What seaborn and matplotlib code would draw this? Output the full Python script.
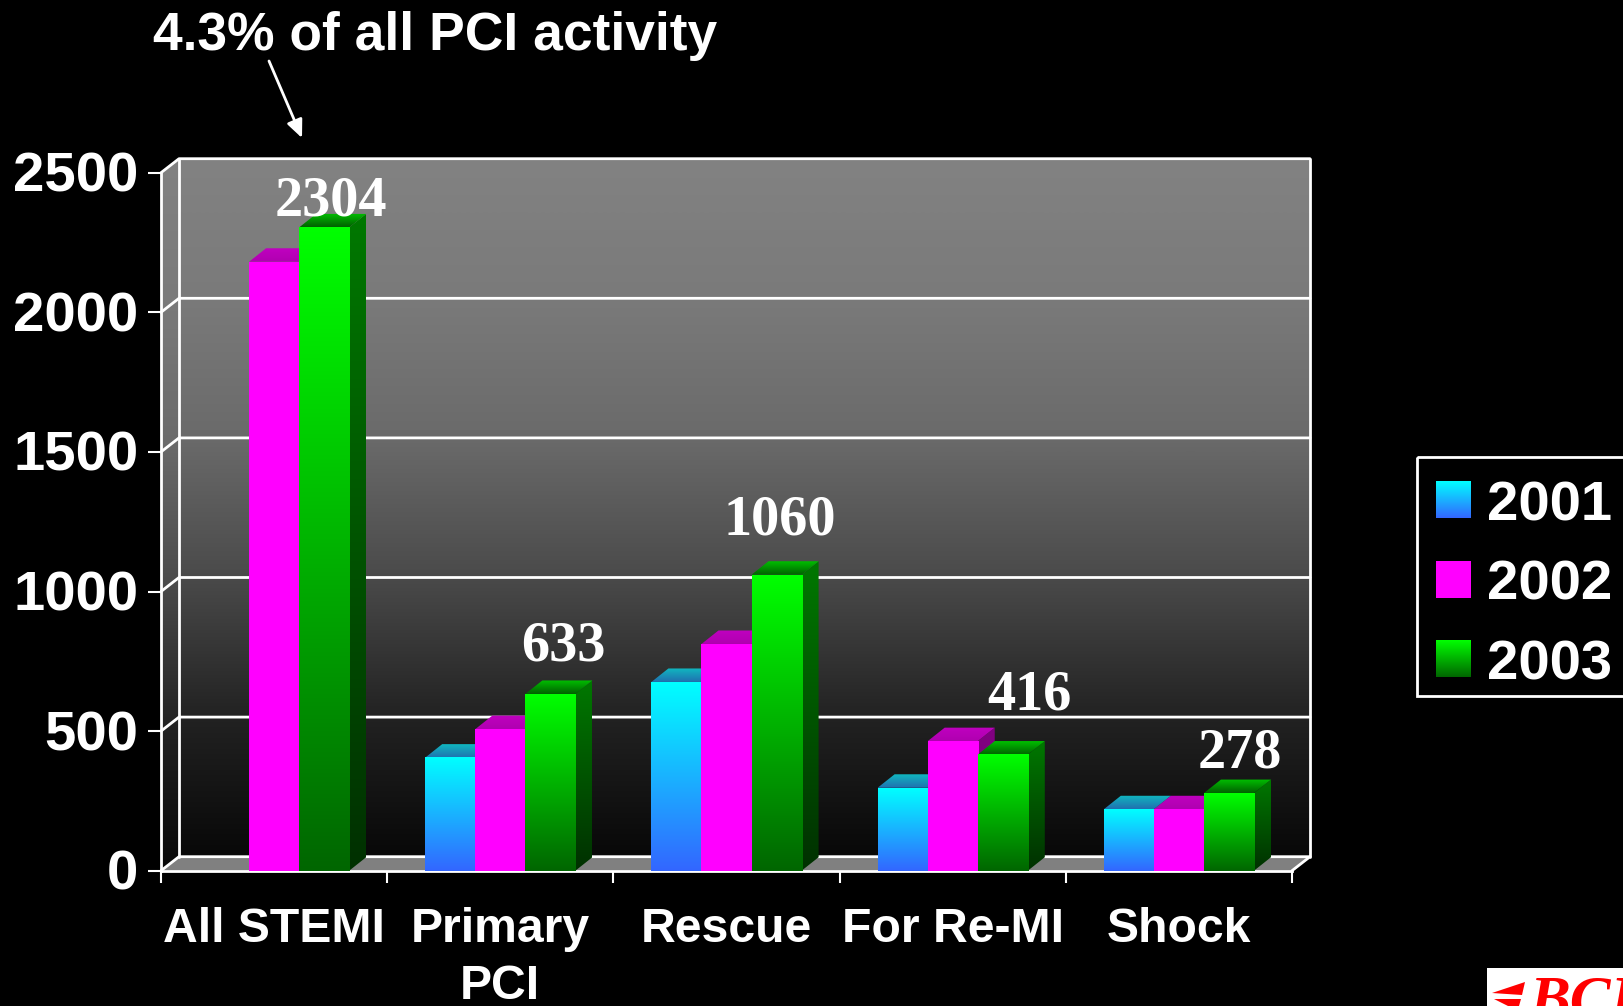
import numpy as np
import pandas as pd
import matplotlib
matplotlib.use('Agg')
import matplotlib.pyplot as plt
import matplotlib.colors as mcolors
from matplotlib.patches import Polygon, Patch, Rectangle
from matplotlib.transforms import ScaledTranslation
import seaborn as sns

# values
procedures = ['All STEMI', 'Primary\nPCI', 'Rescue', 'For Re-MI', 'Shock']
counts_2001 = [np.nan, 405, 676, 297, 220]
counts_2002 = [2181, 507, 812, 464, 220]
counts_2003 = [2304, 633, 1060, 416, 278]
years = ['2001', '2002', '2003']
y_ticks = [0, 500, 1000, 1500, 2000, 2500]
shown_labels = ['2304', '633', '1060', '416', '278']
# where the label sits relative to the top of the green bar (pixels)
label_dx = [7, 13, 3, 27, 11]
label_dy = [12, 33, 40, 45, 26]

W, H = 1623, 1006
DX, DY = 18, 14      # depth of the chart box
BDX, BDY = 17, 13.5  # depth of a bar
LW = 2.0

sns.set_theme(style='white')
plt.rcParams['font.family'] = ['Liberation Sans', 'DejaVu Sans']
plt.rcParams['font.weight'] = 'bold'

df = pd.DataFrame({
    'procedure': procedures * 3,
    'year': [y for y in years for _ in procedures],
    'count': counts_2001 + counts_2002 + counts_2003,
})

fig = plt.figure(figsize=(W / 100, H / 100), dpi=100, facecolor='black')

bg = fig.add_axes([0, 0, 1, 1], zorder=0)
ax = fig.add_axes([161 / W, 1 - 870.7 / H, (1292 - 161) / W, 698 / H], zorder=1)
px = fig.add_axes([0, 0, 1, 1], zorder=2)
for a in (bg, px):
    a.set_xlim(0, W)
    a.set_ylim(H, 0)
    a.axis('off')
    a.set_autoscale_on(False)

palette = {'2001': '#00ffff', '2002': '#ff00ff', '2003': '#00ff00'}
sns.barplot(data=df, x='procedure', y='count', hue='year', hue_order=years,
            order=procedures, palette=palette, width=0.664, gap=0, saturation=1,
            linewidth=0, legend=False, ax=ax)

ax.patch.set_visible(False)
ax.set_xlim(-0.5, 4.5)
ax.set_ylim(0, 2500)
ax.set_xlabel('')
ax.set_ylabel('')
ax.set_yticks(y_ticks)
ax.set_xticks(range(len(procedures)), procedures)
ax.set_xticks(np.arange(-0.5, 5), minor=True)
ax.tick_params(axis='y', colors='white', labelsize=40.5, length=9.4, width=1.5, pad=7, left=True)
ax.tick_params(axis='x', which='major', colors='white', labelsize=34.7, length=0, pad=26)
ax.tick_params(axis='x', which='minor', colors='white', length=8.5, width=1.5, bottom=True)
for s in ('top', 'right'):
    ax.spines[s].set_visible(False)
for s in ('left', 'bottom'):
    ax.spines[s].set_color('white')
    ax.spines[s].set_linewidth(LW)
for label in ax.get_xticklabels():
    label.set_linespacing(1.34)
for label in ax.get_yticklabels():
    label.set_transform(label.get_transform() + ScaledTranslation(0, 1 / 100, fig.dpi_scale_trans))


def to_px(x, y):
    p = ax.transData.transform((x, y))
    return p[0], H - p[1]


def gradient(target, x0, x1, y0, y1, top, bottom, clip, z):
    t = np.linspace(0, 1, 256)[:, None, None]
    c0 = np.array(mcolors.to_rgb(top))[None, None, :]
    c1 = np.array(mcolors.to_rgb(bottom))[None, None, :]
    im = target.imshow((1 - t) * c0 + t * c1, extent=(x0, x1, y1, y0), origin='upper',
                       aspect='auto', interpolation='bilinear', zorder=z)
    if clip is not None:
        im.set_clip_path(Polygon(clip, closed=True, transform=target.transData))
    return im


def wall(target, x0, x1, y0, y1, clip, z):
    # the grey of the wall does not fall off evenly
    stops = [0, 0.2, 0.4, 0.6, 0.8, 1]
    greys = [0x82, 0x7a, 0x6a, 0x4a, 0x22, 0x08]
    g = np.interp(np.linspace(0, 1, 256), stops, greys) / 255
    im = target.imshow(np.dstack([g, g, g])[:, None, :].reshape(256, 1, 3), extent=(x0, x1, y1, y0),
                       origin='upper', aspect='auto', interpolation='bilinear', zorder=z)
    if clip is not None:
        im.set_clip_path(Polygon(clip, closed=True, transform=target.transData))


# chart box behind the bars
fx0, fy0 = to_px(-0.5, 0)
fx1, fy1 = to_px(4.5, 2500)
bx0, bx1 = fx0 + DX, fx1 + DX
wall(bg, bx0, bx1, fy1 - DY, fy0 - DY, None, 1)
side = [(fx0, fy1), (bx0, fy1 - DY), (bx0, fy0 - DY), (fx0, fy0)]
wall(bg, fx0, bx0, fy1 - DY, fy0, side, 1)
bg.add_patch(Polygon([(fx0, fy0), (bx0, fy0 - DY), (bx1, fy0 - DY), (fx1, fy0)],
                     facecolor='#808080', edgecolor='none', zorder=2))
for v in y_ticks:
    _, y = to_px(0, v)
    bg.plot([fx0, bx0, bx1], [y, y - DY, y - DY], color='white', lw=LW, zorder=3)
bg.plot([bx0, bx0], [fy1 - DY, fy0 - DY], color='white', lw=LW, zorder=3)
bg.plot([bx1, bx1], [fy1 - DY, fy0 - DY], color='white', lw=LW, zorder=3)
bg.plot([fx1, bx1], [fy0, fy0 - DY], color='white', lw=LW, zorder=3)

# 3d faces on the seaborn bars, left to right so neighbours overlap correctly
front = {'2001': ('#00ffff', '#3366ff'), '2002': ('#ff00ff', '#ff00ff'), '2003': ('#00ff00', '#006600')}
side_c = {'2001': ('#008080', '#1a3380'), '2002': ('#800080', '#800080'), '2003': ('#007800', '#003000')}
top_c = {'2001': ('#10b8c0', '#2070b0'), '2002': ('#c000c0', '#b000b0'), '2003': ('#00c000', '#006000')}

bars = []
for year, container in zip(years, ax.containers):
    for bar in container:
        if np.isnan(bar.get_height()) or bar.get_height() <= 0:
            continue
        bars.append((bar.get_x(), bar, year))
bars.sort(key=lambda b: b[0])

green_tops = []
for i, (_, bar, year) in enumerate(bars):
    x0, y0 = to_px(bar.get_x(), bar.get_height())
    x1, y1 = to_px(bar.get_x() + bar.get_width(), 0)
    z = 10 + i * 3
    s = [(x1, y0), (x1 + BDX, y0 - BDY), (x1 + BDX, y1 - BDY), (x1, y1)]
    gradient(px, x1, x1 + BDX, y0 - BDY, y1, side_c[year][0], side_c[year][1], s, z)
    t = [(x0, y0), (x0 + BDX, y0 - BDY), (x1 + BDX, y0 - BDY), (x1, y0)]
    gradient(px, x0, x1 + BDX, y0 - BDY, y0, top_c[year][0], top_c[year][1], t, z + 1)
    gradient(px, x0, x1, y0, y1, front[year][0], front[year][1], None, z + 2)
    if year == '2003':
        green_tops.append(((x0 + x1) / 2, y0))

for (cx, cy), txt, dx, dy in zip(green_tops, shown_labels, label_dx, label_dy):
    px.text(cx + dx, cy - dy, txt, color='white', fontsize=40.5, ha='center', va='baseline',
            family=['Liberation Serif', 'DejaVu Serif'], fontweight='bold', zorder=100)

# title and arrow
px.text(153, 50, '4.3% of all PCI activity', color='white', fontsize=38.4, fontweight='bold',
        ha='left', va='baseline', zorder=100)
px.annotate('', xy=(302, 138), xytext=(269, 61), zorder=100,
            arrowprops=dict(arrowstyle='-|>,head_length=0.9,head_width=0.4', color='white', lw=2,
                            shrinkA=0, shrinkB=0))

# legend, its box is drawn apart because the rows do not sit centred in it
px.add_patch(Rectangle((1417, 457), W + 20 - 1417, 696 - 457, facecolor='none', edgecolor='white',
                       linewidth=LW, zorder=100))
bg.add_patch(Rectangle((1417, 457), W + 20 - 1417, 696 - 457, facecolor='black', edgecolor='none', zorder=5))
handles = [Patch(facecolor=palette[y], edgecolor='none', label=y) for y in years]
leg = ax.legend(handles=handles, loc='upper left', bbox_to_anchor=(1417 / W, 1 - 461 / H),
                bbox_transform=fig.transFigure, borderaxespad=0, fontsize=40.5, labelcolor='white',
                handlelength=0.61, handleheight=0.61, handletextpad=0.3, labelspacing=0.49,
                borderpad=0.34, frameon=False)
fig.canvas.draw()
for handle, year in zip(leg.legend_handles, years):
    ext = handle.get_window_extent()
    gradient(px, ext.x0, ext.x1, H - ext.y1, H - ext.y0, front[year][0], front[year][1], None, 100)

# logo in the corner, cut off by the edge of the slide
px.add_patch(Rectangle((1487, 968), W - 1487, H - 968, facecolor='white', edgecolor='none', zorder=100))
px.add_patch(Polygon([(1492, 993), (1525, 982), (1522, 995)], facecolor='#ff0000', edgecolor='none', zorder=101))
px.add_patch(Polygon([(1494, 999), (1521, 999), (1519, 1006), (1508, 1006)], facecolor='#ff0000', edgecolor='none', zorder=101))
px.text(1530, 1018, 'BCI', color='#ff0000', fontsize=44, fontstyle='italic', fontweight='bold',
        family=['Liberation Serif', 'DejaVu Serif'], ha='left', va='baseline', zorder=101)

fig.savefig('out.png', dpi=100, facecolor='black')
